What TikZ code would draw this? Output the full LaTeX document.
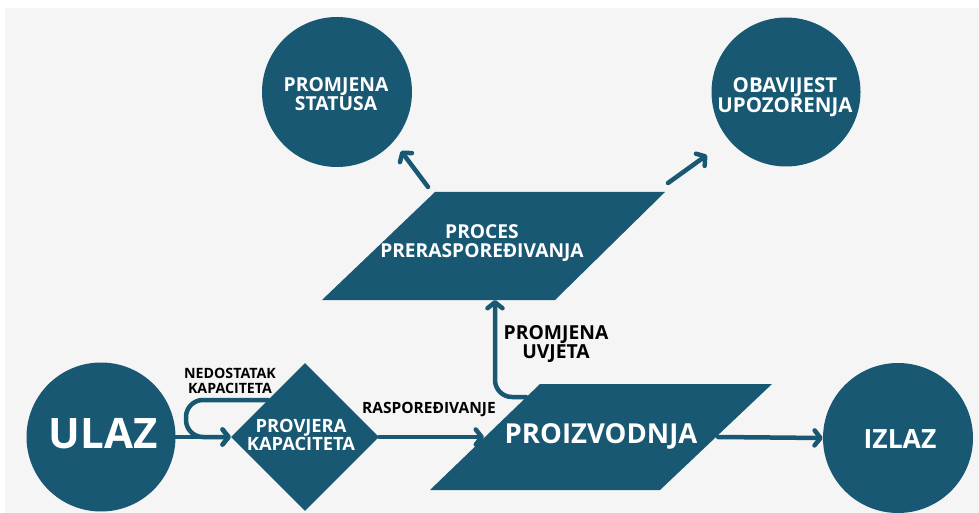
\documentclass[tikz,border=0pt]{standalone}
\usepackage{fontspec}
\setmainfont{Open Sans}
\usetikzlibrary{arrows.meta,shapes.geometric}
\definecolor{dk}{RGB}{24,88,114}
\definecolor{bgc}{RGB}{245,245,245}
\newcommand{\fsz}[1]{\fontsize{#1}{#1}\selectfont}
\begin{document}
\begin{tikzpicture}[x=1pt,y=-1pt,
  circ/.style={circle,fill=dk,inner sep=0pt},
  wt/.style={text=white,align=center,font=\bfseries\fsz{#1},inner sep=0pt},
  bk/.style={text=black,align=center,font=\bfseries\fsz{#1},inner sep=0pt},
  arr/.style={draw=dk,line width=4.5pt,line cap=round,line join=round,
    -{Straight Barb[length=6pt,width=15pt,round]}}]
\fill[white] (0,0) rectangle (979,513);
\fill[bgc] (5,8) rectangle (979,513);
\useasboundingbox (0,0) rectangle (979,513);

% circles
\node[circ,minimum size=149pt] (ulaz) at (101,437) {};
\node[wt=42] (ulazT) at (103,434) {ULAZ};
\node[circ,minimum size=150pt] (izlaz) at (898,438) {};
\node[wt=26.5] (izlazT) at (900,439) {IZLAZ};
\node[circ,minimum size=150pt] (status) at (337,92) {};
\node[wt=19.3] (statusT) at (336,94) {PROMJENA\\STATUSA};
\node[circ,minimum size=149pt] (obav) at (786,92) {};
\node[wt=20.5] (obavT) at (785,97) {OBAVIJEST\\UPOZORENJA};

% diamond
\node[diamond,fill=dk,minimum width=148pt,minimum height=148pt,inner sep=0pt] (prov) at (305,437) {};
\node[wt=18.3] (provT) at (301,435) {PROVJERA\\KAPACITETA};

% parallelograms
\fill[dk] (540,384) -- (772,384) -- (660,490) -- (430,490) -- cycle;
\node[wt=27.5] (proiz) at (601,436) {PROIZVODNJA};
\fill[dk] (435,192) -- (665,192) -- (555,300) -- (322,300) -- cycle;
\node[wt=19.2] (proces) at (482,243) {PROCES\\PRERASPOREĐIVANJA};

% connector end points on the parallelograms
\coordinate (proizW) at (484,437);
\coordinate (proizE) at (718,437);
\coordinate (proizNW) at (526,397);
\coordinate (procesS) at (495,300);
\coordinate (procesNW) at (428,187);
\coordinate (procesNE) at (668,183);
\coordinate (statusIn) at (401,151);
\coordinate (obavIn) at (707,155);
\coordinate (provNW) at (268,400);

% connectors
\draw[arr] (ulaz.east) -- (prov.west);
\draw[arr,rounded corners=17pt] (provNW) -- (186,400) -- (186,437) -- (prov.west);
\draw[arr] (prov.east) -- (proizW);
\draw[arr] (proizE) -- (izlaz.west);
\draw[arr,rounded corners=17pt] (proizNW) -- (495,397) -- (procesS);
\draw[arr] (procesNW) -- (statusIn);
\draw[arr] (procesNE) -- (obavIn);

% labels
\node[bk=14.2] (lblNed) at (230,381) {NEDOSTATAK\\KAPACITETA};
\node[bk=15.5] (lblRas) at (429,410) {RASPOREĐIVANJE};
\node[bk=19.3] (lblUvj) at (556,344) {PROMJENA\\UVJETA};
\end{tikzpicture}
\end{document}
